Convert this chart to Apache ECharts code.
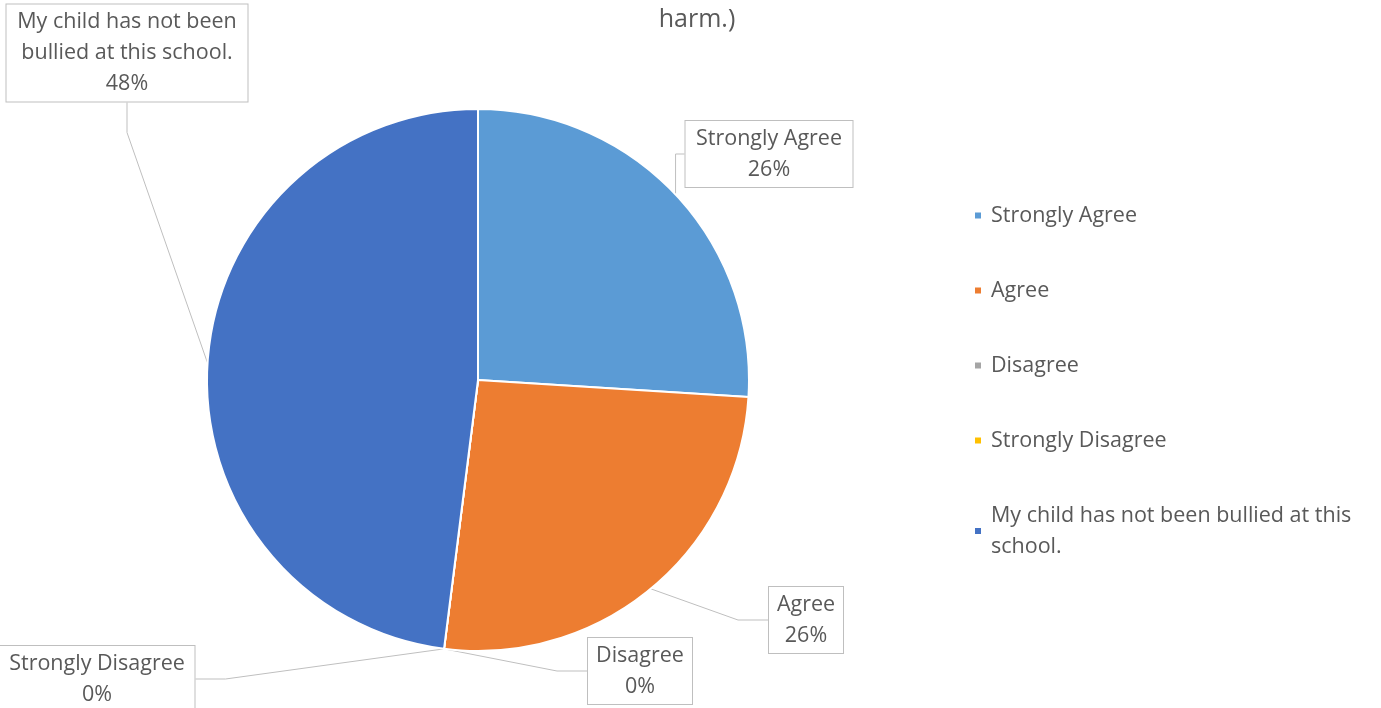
<!DOCTYPE html>
<html><head><meta charset="utf-8">
<script src="https://cdn.jsdelivr.net/npm/echarts@6/dist/echarts.min.js"></script>
<style>html,body{margin:0;padding:0;background:#fff}#c{width:1381px;height:708px}</style>
</head><body><div id="c"></div>
<script>
const titleText = 'harm.)';
const categories = ['Strongly Agree','Agree','Disagree','Strongly Disagree','My child has not been bullied at this school.'];
const values = [26, 26, 0, 0, 48];
const colors = ['#5B9BD5','#ED7D31','#A5A5A5','#FFC000','#4472C4'];
const labelNames = ['Strongly Agree','Agree','Disagree','Strongly Disagree','My child has not been\nbullied at this school.'];
const labelPos = [[769,154],[806,620],[640,671],[97,679],[127,53]];
const labelWidths = [151, 58, 88, 179, 225];

const FONT = 'Open Sans';
const chart = echarts.init(document.getElementById('c'));
chart.setOption({
  animation: false,
  color: colors,
  title: {text: titleText, left: 692, top: 2, textAlign: 'center',
    textStyle: {fontFamily: FONT, fontSize: 25, fontWeight: 'normal', color: '#595959'}},
  legend: {
    orient: 'vertical', left: 973, top: 200, itemGap: 44, padding: 0,
    itemWidth: 8, itemHeight: 8, icon: 'rect',
    data: categories,
    textStyle: {fontFamily: FONT, fontSize: 21.5, color: '#595959', width: 380, overflow: 'break', lineHeight: 31, padding: [0,0,0,4]}
  },
  series: [{
    type: 'pie', center: [478, 380], radius: 271, startAngle: 90, clockwise: true,
    data: categories.map((c, i) => ({name: c, value: values[i], label: {width: labelWidths[i]}})),
    itemStyle: {borderColor: '#fff', borderWidth: 2},
    label: {
      show: true, overflow: 'none',
      formatter: p => labelNames[p.dataIndex] + '\n' + Math.round(p.percent) + '%',
      fontFamily: FONT, fontSize: 21.5, color: '#595959', lineHeight: 31, align: 'center',
      backgroundColor: '#fff', borderColor: '#BFBFBF', borderWidth: 1, padding: [2, 8, 2, 8]
    },
    labelLine: {show: true, lineStyle: {color: '#BFBFBF', width: 1}},
    labelLayout: p => ({x: labelPos[p.dataIndex][0], y: labelPos[p.dataIndex][1], align: 'center', verticalAlign: 'middle'})
  }]
});
</script></body></html>
